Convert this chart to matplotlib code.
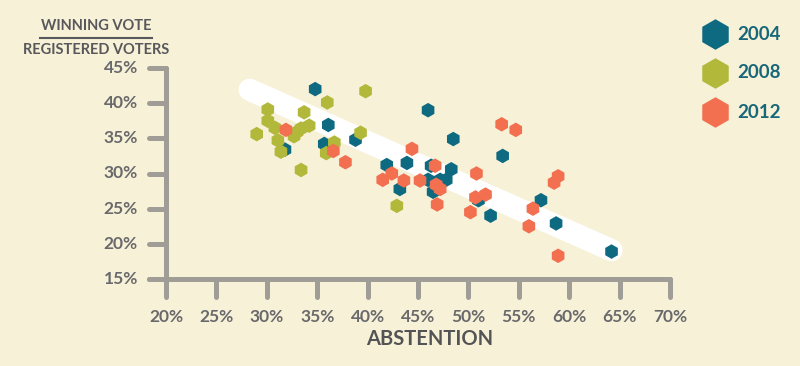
import numpy as np
import matplotlib
matplotlib.use("Agg")
import matplotlib.pyplot as plt

plt.rcParams['font.family'] = ['Lato', 'DejaVu Sans']

# abstention (%) and winning vote / registered voters (%)
abst_2004 = [34.8, 36.1, 38.8, 35.7, 31.8, 41.9, 43.9, 43.2, 46.0, 48.5, 53.4,
             46.3, 48.3, 46.0, 47.2, 47.8, 46.5, 51.0, 52.2, 57.2, 58.7, 64.2]
win_2004 = [42.0, 36.9, 34.8, 34.2, 33.4, 31.2, 31.5, 27.8, 39.0, 34.9, 32.5,
            31.1, 30.6, 29.1, 29.1, 29.1, 27.4, 26.2, 24.0, 26.2, 22.9, 18.9]

abst_2008 = [39.8, 36.0, 30.1, 33.7, 30.1, 30.8, 34.2, 33.4, 33.0, 32.7, 29.0,
             39.3, 31.1, 36.7, 31.4, 35.9, 33.4, 42.9]
win_2008 = [41.7, 40.1, 39.1, 38.7, 37.5, 36.5, 36.8, 36.4, 35.9, 35.3, 35.6,
            35.8, 34.7, 34.4, 33.1, 32.9, 30.5, 25.4]

abst_2012 = [31.9, 36.6, 37.8, 44.4, 42.4, 41.5, 43.6, 53.3, 54.7, 46.7, 50.8,
             45.2, 46.8, 47.2, 46.9, 50.7, 51.7, 50.2, 58.5, 58.9, 56.4, 56.0, 58.9]
win_2012 = [36.2, 33.2, 31.6, 33.5, 30.0, 29.1, 29.0, 37.0, 36.2, 31.1, 30.0,
            29.0, 28.4, 27.8, 25.6, 26.6, 27.0, 24.5, 28.7, 29.6, 25.0, 22.5, 18.3]

trend_x = [28.3, 64.2]
trend_y = [41.9, 19.1]

x_ticks = [20, 25, 30, 35, 40, 45, 50, 55, 60, 65, 70]
y_ticks = [15, 20, 25, 30, 35, 40, 45]

years = ['2004', '2008', '2012']
colors = ['#0E6A80', '#B2B83A', '#F26F50']

bg = '#F7F1D7'
axis_col = '#A09C96'
text_col = '#58585C'

fig = plt.figure(figsize=(8, 3.66), dpi=100, facecolor=bg)
ax = fig.add_axes([166 / 800, (366 - 279) / 366, (670 - 166) / 800, (279 - 68) / 366])
ax.set_facecolor(bg)
ax.set_xlim(20, 70)
ax.set_ylim(15, 45)
ax.axis('off')

# axes drawn by hand with round caps
px_x = 50 / 504.0
px_y = 30 / 211.0
ax.plot([20, 20], [45, 15], color=axis_col, lw=3.6, solid_capstyle='round', clip_on=False)
ax.plot([20 - 17 * px_x, 70], [15, 15], color=axis_col, lw=3.6, solid_capstyle='round', clip_on=False)
for t in y_ticks:
    ax.plot([20 - 17 * px_x, 20], [t, t], color=axis_col, lw=3.6, solid_capstyle='round', clip_on=False)
    ax.text(20 - 28 * px_x, t, f'{t}%', ha='right', va='center', fontsize=12.5,
            fontweight='bold', color='#69696C')
for t in x_ticks:
    ax.plot([t, t], [15, 15 - 18 * px_y], color=axis_col, lw=3.6, solid_capstyle='round', clip_on=False)
    ax.text(t, 15 - 38 * px_y, f'{t}%', ha='center', va='center', fontsize=12.5,
            fontweight='bold', color='#69696C')

ax.plot(trend_x, trend_y, color='white', lw=16, solid_capstyle='round', zorder=1)

data = [(abst_2004, win_2004), (abst_2008, win_2008), (abst_2012, win_2012)]
for (xs, ys), c in zip(data, colors):
    ax.scatter(xs, ys, marker='h', s=110, color=c, edgecolors='none', zorder=3, clip_on=False)

fig.text(430 / 800, 1 - 339 / 366, 'ABSTENTION', ha='center', va='center',
         fontsize=14.5, fontweight='bold', color='#545457')

fig.text(96 / 800, 1 - 26 / 366, 'WINNING VOTE', ha='center', va='center',
         fontsize=10.5, fontweight='bold', color=text_col)
fig.add_artist(plt.Line2D([40 / 800, 152 / 800], [1 - 38 / 366, 1 - 38 / 366],
                          color=text_col, lw=1.5))
fig.text(96 / 800, 1 - 50 / 366, 'REGISTERED VOTERS', ha='center', va='center',
         fontsize=10.5, fontweight='bold', color=text_col)

# legend
for i, (yr, c) in enumerate(zip(years, colors)):
    yy = 1 - (34 + 39 * i) / 366
    fig.add_artist(plt.Line2D([715 / 800], [yy], marker='h', markersize=22,
                              color=c, markeredgewidth=0, linestyle='none'))
    fig.text(737 / 800, yy, yr, ha='left', va='center', fontsize=13.5,
             fontweight='bold', color='#17677A')

fig.savefig('out.png', dpi=100, facecolor=bg)
